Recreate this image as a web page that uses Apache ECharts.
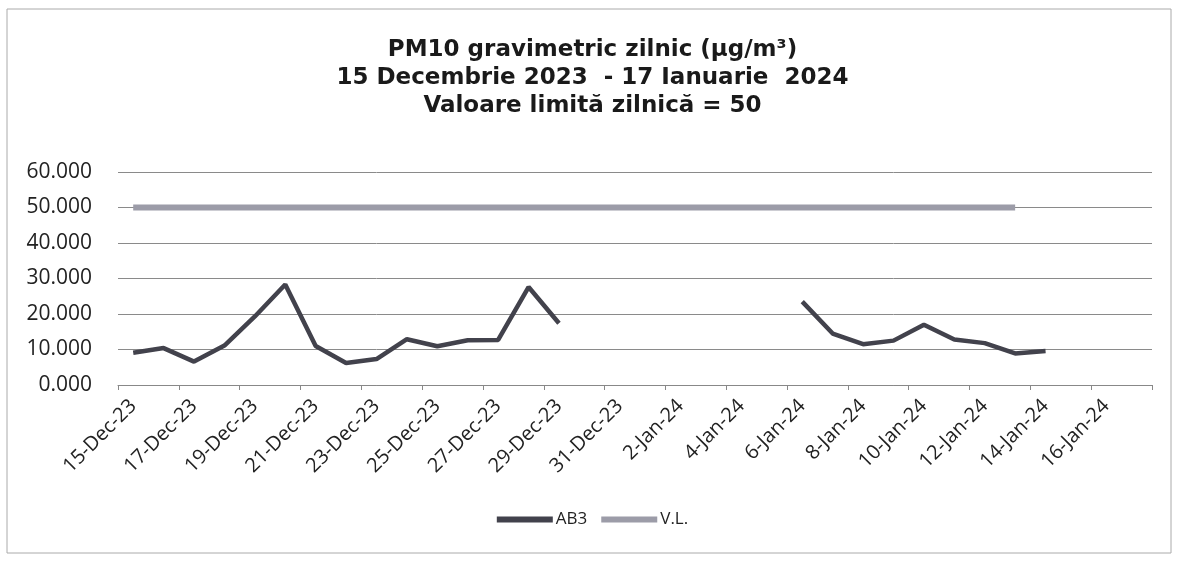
<!DOCTYPE html>
<html>
<head>
<meta charset="utf-8">
<script src="https://cdn.jsdelivr.net/npm/echarts@6/dist/echarts.min.js"></script>
<style>
  html, body { margin: 0; padding: 0; background: #fff; }
  #chart { width: 1185px; height: 569px; }
</style>
</head>
<body>
<div id="chart"></div>
<script>
// zile 15 Dec 2023 - 17 Jan 2024
const days = [
  '15-Dec-23', '16-Dec-23', '17-Dec-23', '18-Dec-23', '19-Dec-23', '20-Dec-23',
  '21-Dec-23', '22-Dec-23', '23-Dec-23', '24-Dec-23', '25-Dec-23', '26-Dec-23',
  '27-Dec-23', '28-Dec-23', '29-Dec-23', '30-Dec-23', '31-Dec-23',
  '1-Jan-24', '2-Jan-24', '3-Jan-24', '4-Jan-24', '5-Jan-24', '6-Jan-24',
  '7-Jan-24', '8-Jan-24', '9-Jan-24', '10-Jan-24', '11-Jan-24', '12-Jan-24',
  '13-Jan-24', '14-Jan-24', '15-Jan-24', '16-Jan-24', '17-Jan-24'
]

// PM10 statia AB3 (ug/m3), null = lipsa date
const ab3 = [
  9.1, 10.4, 6.6, 11.1, 19.3, 28.3, 11.0, 6.2, 7.3, 12.9, 10.9, 12.6,
  12.7, 27.6, 17.4, null, null,
  null, null, null, null, null, 23.5,
  14.5, 11.5, 12.5, 17.0, 12.8, 11.8,
  8.9, 9.6, null, null, null
]

// valoare limita zilnica
const vl = [
  50, 50, 50, 50, 50, 50, 50, 50, 50, 50, 50, 50,
  50, 50, 50, 50, 50,
  50, 50, 50, 50, 50, 50,
  50, 50, 50, 50, 50, 50,
  50, null, null, null, null
]

const titleLines = [
  'PM10 gravimetric zilnic (µg/m³)',
  '15 Decembrie 2023  - 17 Ianuarie  2024',
  'Valoare limită zilnică = 50'
]

const chart = echarts.init(document.getElementById('chart'))

chart.setOption({
  backgroundColor: '#fff',
  animation: false,
  title: {
    text: titleLines.join('\n'),
    left: 'center',
    top: 31,
    textStyle: {
      fontFamily: 'DejaVu Sans',
      fontSize: 23,
      lineHeight: 28,
      fontWeight: 'bold',
      color: '#1a1a1a'
    }
  },
  legend: {
    bottom: 36,
    left: 'center',
    itemWidth: 56,
    itemHeight: 6,
    itemGap: 14,
    icon: 'rect',
    textStyle: { fontFamily: 'Open Sans', fontSize: 17, color: '#222', padding: [0, 0, 0, -2] },
    data: ['AB3', 'V.L.']
  },
  graphic: [{
    type: 'rect',
    shape: { x: 7, y: 9, width: 1164, height: 544 },
    style: { fill: 'none', stroke: '#aaa', lineWidth: 1 },
    silent: true
  }],
  grid: {
    left: 118,
    right: 33,
    top: 172,
    bottom: 184
  },
  xAxis: {
    type: 'category',
    data: days,
    boundaryGap: true,
    axisLine: { lineStyle: { color: '#888', width: 1 } },
    axisTick: { show: true, interval: 1, length: 5, lineStyle: { color: '#888' } },
    axisLabel: {
      interval: 1,
      rotate: 45,
      margin: 18,
      fontFamily: 'Open Sans',
      fontSize: 20,
      color: '#222'
    },
    splitLine: { show: false }
  },
  yAxis: {
    type: 'value',
    min: 0,
    max: 60,
    interval: 10,
    axisLine: { show: false },
    axisTick: { show: false },
    axisLabel: {
      margin: 26,
      fontFamily: 'Open Sans',
      fontSize: 21,
      color: '#222',
      formatter: v => v.toFixed(3)
    },
    splitLine: { lineStyle: { color: '#8a8a8a', width: 1 } }
  },
  series: [
    {
      name: 'AB3',
      type: 'line',
      data: ab3,
      showSymbol: false,
      connectNulls: false,
      color: '#42424c',
      lineStyle: { color: '#42424c', width: 4.5 }
    },
    {
      name: 'V.L.',
      type: 'line',
      data: vl,
      showSymbol: false,
      connectNulls: false,
      color: '#9c9ca8',
      lineStyle: { color: '#9c9ca8', width: 6 }
    }
  ]
})
</script>
</body>
</html>
